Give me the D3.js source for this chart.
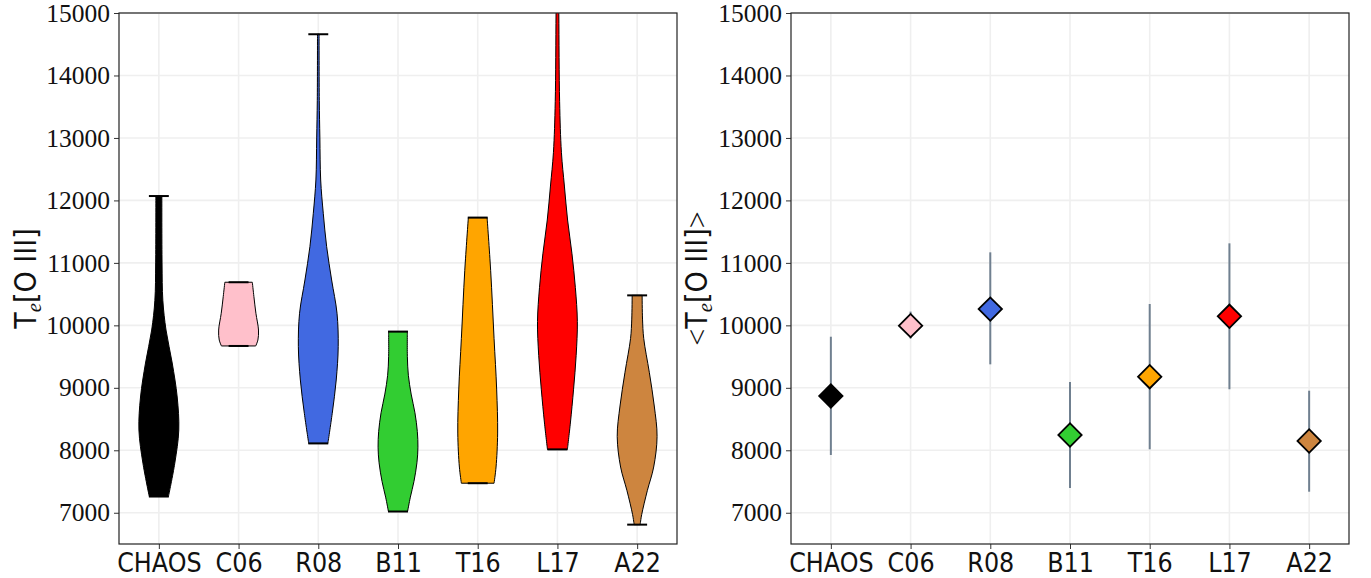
<!DOCTYPE html>
<html>
<head>
<meta charset="utf-8">
<script src="https://cdn.jsdelivr.net/npm/d3@7.9.0/dist/d3.min.js"></script>
<style>
  body { margin: 0; background: #fff; }
  svg { display: block; }
  .ytick text { font-family: "Liberation Serif", serif; font-size: 25.5px; fill: #111; }
  .xtick text { font-family: "DejaVu Sans Condensed", "DejaVu Sans", sans-serif; font-stretch: condensed; font-size: 26.5px; fill: #111; }
  .lab { font-family: "DejaVu Sans Condensed", "DejaVu Sans", sans-serif; font-stretch: condensed; font-size: 30px; fill: #111; }
</style>
</head>
<body>
<svg id="chart" width="1371" height="578"></svg>
<script>
// studies on the x axis, same order in both panels
const studies = ["CHAOS", "C06", "R08", "B11", "T16", "L17", "A22"];
const fills = ["#000000", "#ffc0cb", "#4169e1", "#32cd32", "#ffa500", "#ff0000", "#cd853f"];
const yTicks = [7000, 8000, 9000, 10000, 11000, 12000, 13000, 14000, 15000];

// violin outlines: Te levels (low -> high) and relative width there
const chaosTe  = [7260, 7795, 8325, 8853, 9397, 9925, 10400, 11000, 12070];
const chaosW   = [0.48, 0.80, 1.00, 0.92, 0.67, 0.36, 0.20, 0.16, 0.15];
const c06Te    = [9670, 9765, 9925, 10193, 10459, 10690];
const c06W     = [0.86, 0.97, 1.00, 0.87, 0.77, 0.69];
const r08Te    = [8110, 8592, 9125, 9659, 10193, 10726, 11260, 11794, 12327, 13000, 13600, 14660];
const r08W     = [0.48, 0.70, 0.90, 1.00, 0.94, 0.67, 0.42, 0.25, 0.12, 0.08, 0.05, 0.04];
const b11Te    = [7020, 7250, 7500, 7800, 8050, 8300, 8600, 8900, 9200, 9500, 9900];
const b11W     = [0.48, 0.62, 0.80, 0.95, 1.00, 0.97, 0.85, 0.66, 0.52, 0.47, 0.47];
const t16Te    = [7473, 7732, 8276, 8980, 9791, 10875, 11725];
const t16W     = [0.82, 0.92, 1.00, 0.95, 0.82, 0.65, 0.47];
const l17Te    = [8014, 8437, 8978, 9520, 10062, 10604, 11145, 11686, 12230, 12770, 13583, 14992, 15800];
const l17W     = [0.50, 0.65, 0.81, 0.94, 1.00, 0.90, 0.73, 0.51, 0.35, 0.20, 0.11, 0.07, 0.05];
const a22Te    = [6810, 6973, 7353, 7732, 8221, 8709, 9249, 9791, 10100, 10480];
const a22W     = [0.15, 0.23, 0.51, 0.83, 1.00, 0.86, 0.61, 0.33, 0.27, 0.25];

const violinTe = [chaosTe, c06Te, r08Te, b11Te, t16Te, l17Te, a22Te];
const violinW  = [chaosW, c06W, r08W, b11W, t16W, l17W, a22W];

// right panel: mean Te and the ends of the error bars
const meanTe = [8870, 9995, 10260, 8245, 9178, 10145, 8149];
const errLow = [7925, 9790, 9376, 7396, 8016, 8977, 7337];
const errHigh = [9818, 10220, 11169, 9093, 10342, 11313, 8954];

const svg = d3.select("#chart");
const top0 = 13, bot0 = 544;
const y = d3.scaleLinear().domain([6500, 15000]).range([bot0, top0]);

function panel(x0, x1, id) {
  const x = d3.scaleLinear().domain([0.5, 7.5]).range([x0, x1]);
  const g = svg.append("g");

  g.append("clipPath").attr("id", id)
    .append("rect").attr("x", x0).attr("y", top0).attr("width", x1 - x0).attr("height", bot0 - top0);

  // grid
  g.selectAll(".gy").data(yTicks).join("line")
    .attr("x1", x0).attr("x2", x1)
    .attr("y1", d => y(d)).attr("y2", d => y(d))
    .attr("stroke", "#efefef").attr("stroke-width", 1.6);
  g.selectAll(".gx").data(studies).join("line")
    .attr("x1", (d, i) => x(i + 1)).attr("x2", (d, i) => x(i + 1))
    .attr("y1", top0).attr("y2", bot0)
    .attr("stroke", "#efefef").attr("stroke-width", 1.6);

  // axes
  const ya = g.append("g").attr("class", "ytick").attr("transform", `translate(${x0},0)`)
    .call(d3.axisLeft(y).tickValues(yTicks).tickFormat(d3.format("d")).tickSize(5).tickPadding(4));
  ya.select(".domain").remove();
  const xa = g.append("g").attr("class", "xtick").attr("transform", `translate(0,${bot0})`)
    .call(d3.axisBottom(x).tickValues(d3.range(1, 8)).tickFormat(d => studies[d - 1]).tickSize(5).tickPadding(4));
  xa.select(".domain").remove();
  g.selectAll(".tick line").attr("stroke", "#333");

  const plot = g.append("g").attr("clip-path", `url(#${id})`);
  g.append("rect").attr("x", x0).attr("y", top0).attr("width", x1 - x0).attr("height", bot0 - top0)
    .attr("fill", "none").attr("stroke", "#222").attr("stroke-width", 1.2);
  return { x, plot };
}

// left: violins
const L = panel(119, 677, "clipL");
const half = L.x(1.25) - L.x(1);
violinTe.forEach((te, i) => {
  const cx = L.x(i + 1);
  const pts = te.map((v, k) => [v, violinW[i][k]]);
  const area = d3.area()
    .y(d => y(d[0]))
    .x0(d => cx - d[1] * half)
    .x1(d => cx + d[1] * half)
    .curve(d3.curveCatmullRom);
  L.plot.append("path").attr("d", area(pts))
    .attr("fill", fills[i]).attr("stroke", "#000").attr("stroke-width", 1);
  [d3.min(te), d3.max(te)].forEach(v => {
    L.plot.append("line")
      .attr("x1", L.x(i + 1 - 0.125)).attr("x2", L.x(i + 1 + 0.125))
      .attr("y1", y(v)).attr("y2", y(v))
      .attr("stroke", "#000").attr("stroke-width", 2);
  });
});

// right: means with error bars
const R = panel(791, 1349, "clipR");
R.plot.selectAll(".err").data(meanTe).join("line")
  .attr("x1", (d, i) => R.x(i + 1)).attr("x2", (d, i) => R.x(i + 1))
  .attr("y1", (d, i) => y(errLow[i])).attr("y2", (d, i) => y(errHigh[i]))
  .attr("stroke", "#708090").attr("stroke-width", 2);
const diamond = d3.symbol(d3.symbolSquare, 16.5 * 16.5);
R.plot.selectAll(".pt").data(meanTe).join("path")
  .attr("d", diamond)
  .attr("transform", (d, i) => `translate(${R.x(i + 1)},${y(d)}) rotate(45)`)
  .attr("fill", (d, i) => fills[i]).attr("stroke", "#000").attr("stroke-width", 1.8);

// axis titles
const tl = svg.append("text").attr("class", "lab").attr("text-anchor", "middle")
  .attr("transform", `translate(36,${(top0 + bot0) / 2}) rotate(-90)`);
tl.append("tspan").text("T");
tl.append("tspan").attr("font-family", "Liberation Serif, serif").attr("font-style", "italic")
  .attr("font-size", 21).attr("dy", 5).text("e");
tl.append("tspan").attr("dy", -5).text("[O III]");

const tr = svg.append("text").attr("class", "lab").attr("text-anchor", "middle")
  .attr("transform", `translate(707,${(top0 + bot0) / 2}) rotate(-90)`);
tr.append("tspan").attr("font-family", "Liberation Serif, serif").text("<");
tr.append("tspan").text("T");
tr.append("tspan").attr("font-family", "Liberation Serif, serif").attr("font-style", "italic")
  .attr("font-size", 21).attr("dy", 5).text("e");
tr.append("tspan").attr("dy", -5).text("[O III]");
tr.append("tspan").attr("font-family", "Liberation Serif, serif").text(">");
</script>
</body>
</html>
